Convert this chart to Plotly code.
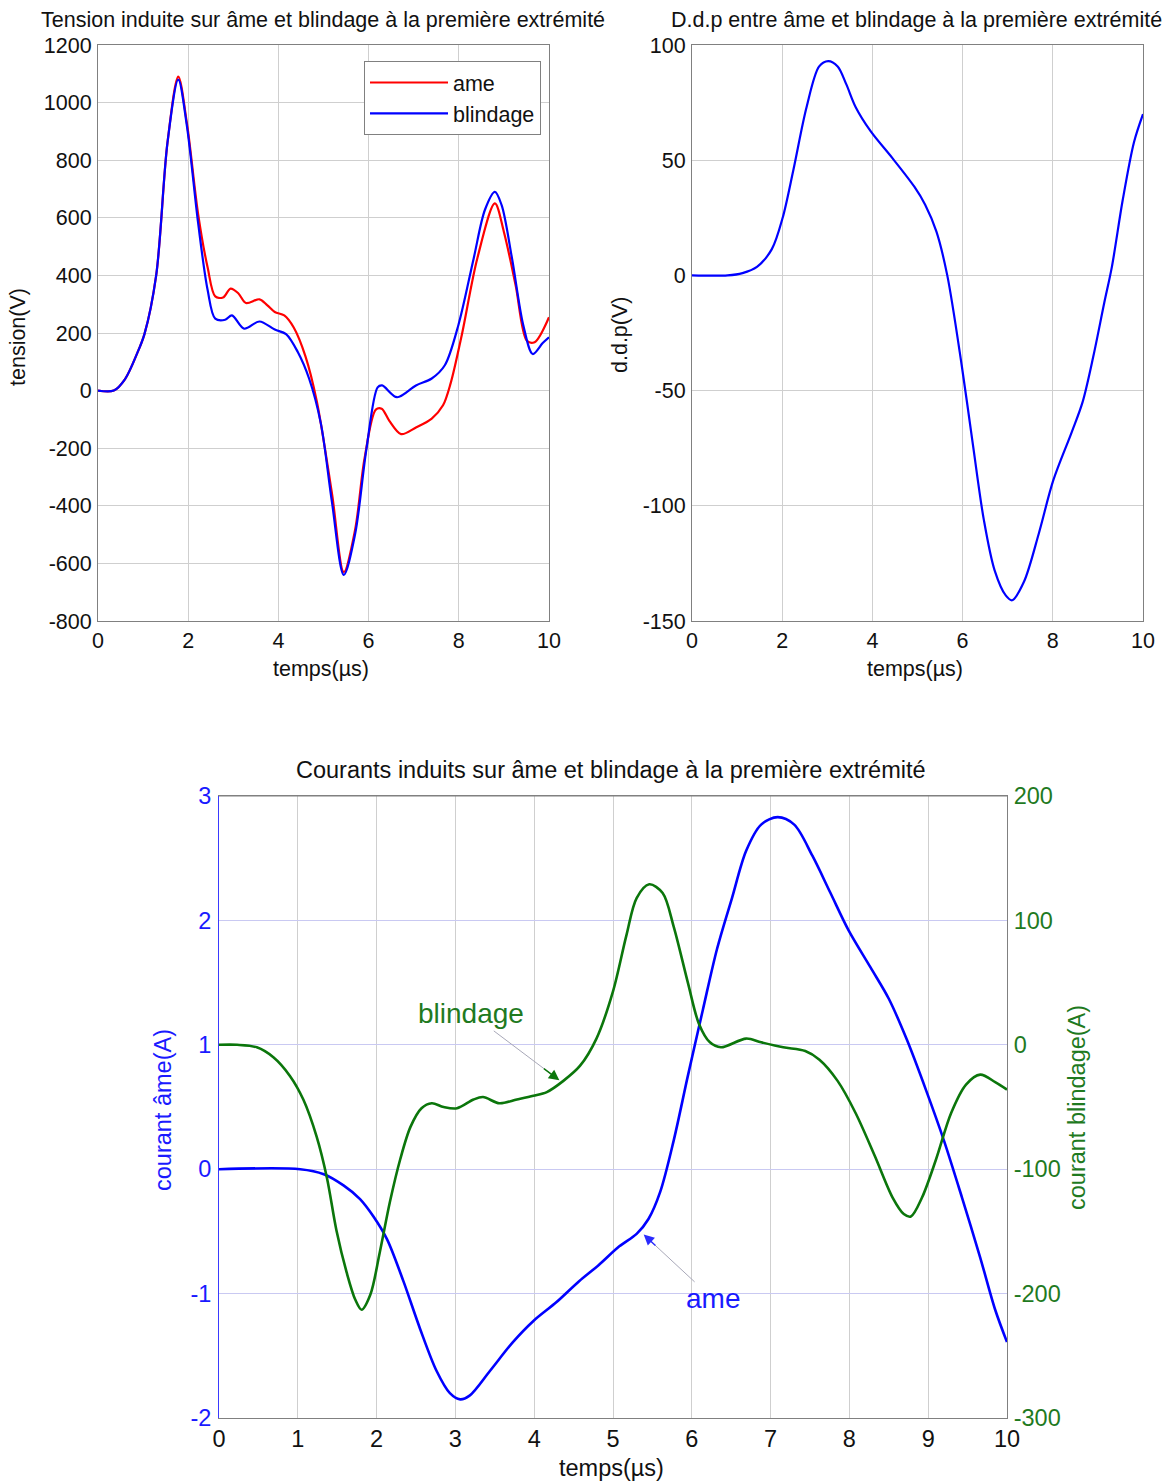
import plotly.graph_objects as go

# ---- Tension induite (première extrémité) ----
t_ame = [0, 0.35, 0.6, 0.87, 1.03, 1.29, 1.54, 1.78, 1.97, 2.22, 2.43, 2.6, 2.77, 2.94, 3.11,
         3.28, 3.58, 3.75, 3.92, 4.13, 4.34, 4.6, 4.85, 5.19, 5.45, 5.7, 5.91, 6.16, 6.29,
         6.46, 6.72, 7.05, 7.4, 7.65, 7.82, 8.07, 8.41, 8.8, 9.0, 9.26, 9.51, 9.68, 10]
v_ame = [0, 0, 40, 130, 196, 400, 860, 1090, 930, 613, 428, 327, 323, 354, 338,
         304, 317, 297, 273, 261, 219, 119, -36, -360, -630, -484, -236, -66, -63,
         -105, -151, -128, -97, -51, 26, 196, 459, 650, 551, 366, 173, 168, 255]

t_bl = [0, 0.35, 0.6, 0.87, 1.03, 1.29, 1.54, 1.78, 1.97, 2.22, 2.43, 2.6, 2.82, 2.97, 3.24,
        3.58, 3.92, 4.17, 4.43, 4.68, 4.94, 5.19, 5.45, 5.7, 5.95, 6.2, 6.3, 6.63, 7.05,
        7.4, 7.69, 7.99, 8.33, 8.58, 8.8, 8.95, 9.18, 9.43, 9.64, 9.86, 10]
v_bl = [0, 0, 40, 130, 196, 400, 860, 1080, 920, 582, 350, 250, 246, 261, 215,
        240, 212, 196, 134, 42, -113, -390, -640, -499, -205, 11, 18, -23, 18,
        42, 88, 227, 459, 628, 690, 644, 459, 227, 127, 165, 185]

# ---- Différence de potentiel âme / blindage ----
t_ddp = [0, 0.79, 1.12, 1.44, 1.77, 2.01, 2.25, 2.54, 2.82, 3.02, 3.23, 3.42, 3.63, 3.96, 4.44,
         4.93, 5.17, 5.42, 5.66, 5.98, 6.23, 6.47, 6.71, 6.96, 7.1, 7.36, 7.69, 8.01,
         8.42, 8.66, 8.9, 9.14, 9.31, 9.55, 9.8, 10]
v_ddp = [0, 0, 1, 3.7, 11.4, 25, 46, 73, 90.7, 93, 90.7, 83, 73, 62.6, 51,
         38.5, 30.7, 19, 0, -39, -73.7, -106, -128, -139, -141, -133, -112, -89,
         -68, -55, -35, -12, 3.7, 32.7, 57.8, 70]

# ---- Courants induits ----
t_i_ame = [0, 1.03, 1.33, 1.58, 1.79, 1.96, 2.13, 2.34, 2.55, 2.76, 2.93, 3.06, 3.18, 3.44,
           3.73, 3.99, 4.28, 4.57, 4.82, 5.08, 5.3, 5.45, 5.6, 5.77, 5.95, 6.14, 6.32, 6.51,
           6.69, 6.88, 7.09, 7.3, 7.53, 7.76, 7.99, 8.27, 8.5, 8.73, 8.97, 9.2, 9.43,
           9.66, 9.85, 10]
i_ame = [0, 0, -0.04, -0.13, -0.24, -0.38, -0.56, -0.9, -1.28, -1.62, -1.8, -1.85, -1.82, -1.62,
         -1.39, -1.22, -1.07, -0.9, -0.77, -0.62, -0.52, -0.4, -0.18, 0.23, 0.75, 1.28, 1.77, 2.18,
         2.56, 2.77, 2.83, 2.77, 2.52, 2.22, 1.92, 1.62, 1.37, 1.04, 0.64, 0.23, -0.23,
         -0.71, -1.13, -1.39]

t_i_bl = [0, 0.23, 0.48, 0.69, 0.9, 1.07, 1.24, 1.37, 1.49, 1.62, 1.73, 1.81, 1.92, 2.04,
          2.17, 2.3, 2.43, 2.57, 2.7, 2.85, 3.02, 3.23, 3.35, 3.56, 3.78, 3.99, 4.16,
          4.37, 4.58, 4.79, 5.0, 5.17, 5.3, 5.46, 5.63, 5.77, 5.95, 6.09, 6.23, 6.37,
          6.69, 6.88, 7.16, 7.44, 7.62, 7.85, 8.08, 8.32, 8.55, 8.69, 8.78, 8.92, 9.1,
          9.29, 9.48, 9.66, 9.85, 10]
i_bl = [0, 0, -2, -10, -25, -44, -74, -107, -149, -183, -205, -213, -201, -167,
        -126, -92, -66, -51, -47, -50, -51, -44, -42, -47, -44, -41, -38,
        -29, -17, 5, 43, 88, 118, 129, 122, 95, 50, 17, 2, -2,
        5, 2, -2, -5, -12, -29, -55, -89, -123, -136, -138, -123, -92,
        -55, -32, -24, -30, -36]

# tick values and their printed labels (plain hyphen minus)
x_ticks = [0, 2, 4, 6, 8, 10]
x_ticks_bottom = list(range(0, 11))
y_tension_ticks = [-800, -600, -400, -200, 0, 200, 400, 600, 800, 1000, 1200]
y_ddp_ticks = [-150, -100, -50, 0, 50, 100]
y_ame_ticks = [-2, -1, 0, 1, 2, 3]
y_bl_ticks = [-300, -200, -100, 0, 100, 200]


def labels(vals):
    return [str(v) for v in vals]


W, H = 1174, 1481
FONT = "Liberation Sans, Arial, sans-serif"
BLUE = "#0000ff"
RED = "#ff0000"
GREEN = "#0b760b"
GRID = "#cfcfcf"
SPINE = "#808080"
TOP_SIZE = 21.5
BOT_SIZE = 23.5


def px(x):
    return x / W


def py(y):
    return 1 - y / H


fig = go.Figure()

line_kw = dict(shape="spline", smoothing=0.9)
fig.add_trace(go.Scatter(x=t_ame, y=v_ame, name="ame", mode="lines",
                         line=dict(color=RED, width=2.2, **line_kw), xaxis="x", yaxis="y"))
fig.add_trace(go.Scatter(x=t_bl, y=v_bl, name="blindage", mode="lines",
                         line=dict(color=BLUE, width=2.2, **line_kw), xaxis="x", yaxis="y"))
fig.add_trace(go.Scatter(x=t_ddp, y=v_ddp, name="ddp", mode="lines", showlegend=False,
                         line=dict(color=BLUE, width=2.2, **line_kw), xaxis="x2", yaxis="y2"))
fig.add_trace(go.Scatter(x=t_i_ame, y=i_ame, name="courant âme", mode="lines", showlegend=False,
                         line=dict(color=BLUE, width=2.6, **line_kw), xaxis="x3", yaxis="y3"))
fig.add_trace(go.Scatter(x=t_i_bl, y=i_bl, name="courant blindage", mode="lines", showlegend=False,
                         line=dict(color=GREEN, width=2.6, **line_kw), xaxis="x3", yaxis="y4"))

top_tick_font = dict(family=FONT, size=TOP_SIZE, color="#111111")
ax_common = dict(showline=True, mirror=True, linecolor=SPINE, linewidth=1,
                 showgrid=True, gridcolor=GRID, gridwidth=1, zeroline=False,
                 ticks="", automargin=False)

fig.update_layout(
    width=W, height=H, autosize=False,
    margin=dict(l=0, r=0, t=0, b=0, pad=0),
    paper_bgcolor="white", plot_bgcolor="white",
    font=dict(family=FONT, size=TOP_SIZE, color="#111111"),
    xaxis=dict(domain=[px(98), px(549)], anchor="y", range=[0, 10],
               tickvals=x_ticks, ticktext=labels(x_ticks),
               ticklabelstandoff=0, tickfont=top_tick_font, **ax_common),
    yaxis=dict(domain=[py(621), py(45)], anchor="x", range=[-800, 1200],
               tickvals=y_tension_ticks, ticktext=labels(y_tension_ticks),
               ticklabelstandoff=1, tickfont=top_tick_font, **ax_common),
    xaxis2=dict(domain=[px(692), px(1143)], anchor="y2", range=[0, 10],
                tickvals=x_ticks, ticktext=labels(x_ticks),
                ticklabelstandoff=0, tickfont=top_tick_font, **ax_common),
    yaxis2=dict(domain=[py(621), py(45)], anchor="x2", range=[-150, 100],
                tickvals=y_ddp_ticks, ticktext=labels(y_ddp_ticks),
                ticklabelstandoff=1, tickfont=top_tick_font, **ax_common),
    xaxis3=dict(domain=[px(219), px(1007)], anchor="y3", range=[0, 10],
                tickvals=x_ticks_bottom, ticktext=labels(x_ticks_bottom),
                ticklabelstandoff=0, tickfont=dict(family=FONT, size=BOT_SIZE, color="#111111"),
                **ax_common),
    yaxis3=dict(domain=[py(1418), py(796)], anchor="x3", range=[-2, 3],
                tickvals=y_ame_ticks, ticktext=labels(y_ame_ticks),
                showline=True, mirror=False, linecolor="#3a3aff", linewidth=1,
                showgrid=True, gridcolor="#c9c9f2", gridwidth=1, zeroline=False, ticks="",
                automargin=False, ticklabelstandoff=2,
                tickfont=dict(family=FONT, size=BOT_SIZE, color="#1a1aff")),
    yaxis4=dict(domain=[py(1418), py(796)], anchor="x3", overlaying="y3", side="right",
                range=[-300, 200], tickvals=y_bl_ticks, ticktext=labels(y_bl_ticks),
                showline=True, linecolor=SPINE, linewidth=1,
                showgrid=False, zeroline=False, ticks="", automargin=False,
                ticklabelstandoff=1,
                tickfont=dict(family=FONT, size=BOT_SIZE, color="#1f7a1f")),
    legend=dict(x=px(364), y=py(61), xanchor="left", yanchor="top",
                bgcolor="white", bordercolor=SPINE, borderwidth=1,
                font=dict(family=FONT, size=TOP_SIZE, color="#111111"),
                itemwidth=78, tracegroupgap=0),
    showlegend=True,
)

# top border of the bottom panel (the left spine carries the blue axis colour)
fig.add_shape(type="line", xref="paper", yref="paper", x0=px(219), x1=px(1007),
              y0=py(796), y1=py(796), line=dict(color=SPINE, width=1))

texts = [
    ("Tension induite sur âme et blindage à la première extrémité", 323, 20, 0, "#111111", TOP_SIZE),
    ("D.d.p entre âme et blindage à la première extrémité", 916, 20, 0, "#111111", TOP_SIZE),
    ("Courants induits sur âme et blindage à la première extrémité", 611, 770, 0, "#111111", BOT_SIZE),
    ("temps(µs)", 321, 669, 0, "#111111", TOP_SIZE),
    ("temps(µs)", 915, 669, 0, "#111111", TOP_SIZE),
    ("temps(µs)", 611, 1468, 0, "#111111", BOT_SIZE),
    ("tension(V)", 18, 337, -90, "#111111", TOP_SIZE),
    ("d.d.p(V)", 620, 335, -90, "#111111", TOP_SIZE),
    ("courant âme(A)", 163, 1110, -90, "#1a1aff", BOT_SIZE),
    ("courant blindage(A)", 1077, 1108, -90, "#1f7a1f", BOT_SIZE),
]
for txt, x, y, ang, col, size in texts:
    fig.add_annotation(text=txt, x=px(x), y=py(y), xref="paper", yref="paper",
                       xanchor="center", yanchor="middle", showarrow=False, textangle=ang,
                       font=dict(family=FONT, size=size, color=col))

# curve labels on the current panel: thin grey pointer line + coloured arrow head
pointers = [
    ("blindage", 4.33, 0.71, -89, -67, GREEN, "#1f7a1f"),
    ("ame", 5.38, -0.52, 70, 65, "#2a2aff", "#1a1aff"),
]
for txt, xh, yh, ax, ay, head_col, txt_col in pointers:
    fig.add_annotation(text=txt, x=xh, y=yh, xref="x3", yref="y3",
                       ax=ax, ay=ay, showarrow=True, arrowhead=0, arrowwidth=1,
                       arrowcolor="#a8a8b8", standoff=6,
                       font=dict(family=FONT, size=28, color=txt_col))
    fig.add_annotation(text="", x=xh, y=yh, xref="x3", yref="y3",
                       ax=ax * 0.2, ay=ay * 0.2, showarrow=True, arrowhead=2, arrowsize=1.5,
                       arrowwidth=1.4, arrowcolor=head_col, standoff=1)

fig.write_html("out.html")
